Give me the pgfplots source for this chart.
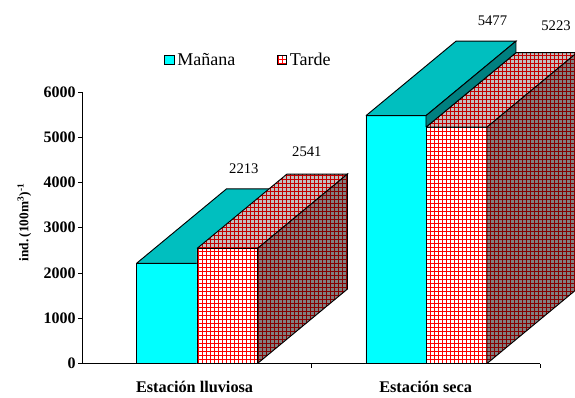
\documentclass[border=0pt]{standalone}
\usepackage{fontspec}
\setmainfont{Liberation Serif}
\usepackage{pgfplots}
\usetikzlibrary{patterns}
\pgfplotsset{compat=1.18}

% Hatch fills: square grid on a solid ground, one per shaded face
\newcommand{\gridpattern}[3]{%
  \pgfdeclarepatterninherentlycolored{#1}{\pgfqpoint{-0.1pt}{-0.1pt}}{\pgfqpoint{3.1pt}{3.1pt}}{\pgfqpoint{3pt}{3pt}}{%
    \pgfsetfillcolor{#2}%
    \pgfpathrectangle{\pgfqpoint{-0.1pt}{-0.1pt}}{\pgfqpoint{3.2pt}{3.2pt}}\pgfusepath{fill}%
    \pgfsetstrokecolor{#3}%
    \pgfsetlinewidth{0.5pt}%
    \pgfpathmoveto{\pgfqpoint{1.5pt}{-0.1pt}}\pgfpathlineto{\pgfqpoint{1.5pt}{3.1pt}}%
    \pgfpathmoveto{\pgfqpoint{-0.1pt}{1.5pt}}\pgfpathlineto{\pgfqpoint{3.1pt}{1.5pt}}%
    \pgfusepath{stroke}}}
\definecolor{cyanfront}{HTML}{00FFFF}
\definecolor{cyantop}{HTML}{00BFBF}
\definecolor{cyanside}{HTML}{008080}
\definecolor{redfront}{HTML}{FF0000}
\definecolor{redtop}{HTML}{C40000}
\definecolor{redside}{HTML}{850000}
\definecolor{greytop}{HTML}{C0C0C0}
\definecolor{greyside}{HTML}{808080}
\gridpattern{tardefront}{white}{redfront}
\gridpattern{tardetop}{greytop}{redtop}
\gridpattern{tardeside}{greyside}{redside}

\pgfplotsset{
  face/.style={draw=black, line width=0.7pt, line join=miter, forget plot},
  manana front/.style={face, fill=cyanfront},
  manana top/.style={face, fill=cyantop},
  manana side/.style={face, fill=cyanside},
  tarde front/.style={face, pattern=tardefront},
  tarde top/.style={face, pattern=tardetop},
  tarde side/.style={face, pattern=tardeside},
}

\begin{document}
\begin{tikzpicture}
\useasboundingbox (-61.875pt,-25.125pt) rectangle (369.375pt,272.625pt);
\begin{axis}[
  at={(0pt,0pt)}, anchor=south west,
  scale only axis, width=343.125pt, height=203.625pt,
  xmin=0, xmax=2, ymin=0, ymax=6000,
  axis x line=bottom, axis y line=left,
  axis line style={-, line width=0.9pt, black},
  clip=false,
  ytick={0,1000,...,6000},
  y tick label style={font=\fontsize{12}{12}\selectfont\bfseries, inner xsep=2pt},
  /pgf/number format/assume math mode=true,
  /pgf/number format/1000 sep={},
  tick style={black, line width=0.7pt},
  tick align=outside,
  major tick length=3pt,
  xtick={1,2},
  xticklabels={},
  x tick label style={font=\fontsize{12.2}{12}\selectfont\bfseries, yshift=-6.5pt},
  extra x ticks={0.49,1.5},
  extra x tick labels={Estación lluviosa,Estación seca},
  extra x tick style={tick style={draw=none}},
  ylabel={ind.\,(100m\textsuperscript{3})\textsuperscript{-1}},
  ylabel style={font=\fontsize{10}{12}\selectfont\bfseries, at={(axis description cs:-0.127,0.52)}, anchor=center},
  legend columns=2,
  legend style={at={(0.178,1.118)}, anchor=west, draw=none, fill=none, inner sep=0pt,
    font=\fontsize{13.5}{13}\selectfont, /tikz/every even column/.append style={column sep=29pt}},
  legend cell align=left,
]
% Estación lluviosa, Mañana 2213
\addplot[manana front] coordinates {(0.2361,0) (0.5005,0) (0.5005,2213) (0.2361,2213) (0.2361,0)};
\addplot[manana top] coordinates {(0.2361,2213) (0.5005,2213) (0.8939,3859) (0.6295,3859) (0.2361,2213)};
% Estación lluviosa, Tarde 2541
\addplot[tarde front] coordinates {(0.5005,0) (0.765,0) (0.765,2541) (0.5005,2541) (0.5005,0)};
\addplot[tarde top] coordinates {(0.5005,2541) (0.765,2541) (1.1584,4187) (0.8939,4187) (0.5005,2541)};
\addplot[tarde side] coordinates {(0.765,0) (1.1584,1646) (1.1584,4187) (0.765,2541) (0.765,0)};
% Estación seca, Tarde 5223
\addplot[tarde front] coordinates {(1.5016,0) (1.7683,0) (1.7683,5223) (1.5016,5223) (1.5016,0)};
\addplot[tarde top] coordinates {(1.5016,5223) (1.7683,5223) (2.1617,6869) (1.895,6869) (1.5016,5223)};
\addplot[tarde side] coordinates {(1.7683,0) (2.1617,1646) (2.1617,6869) (1.7683,5223) (1.7683,0)};
% Estación seca, Mañana 5477
\addplot[manana front] coordinates {(1.2393,0) (1.5016,0) (1.5016,5477) (1.2393,5477) (1.2393,0)};
\addplot[manana top] coordinates {(1.2393,5477) (1.5016,5477) (1.895,7123) (1.6327,7123) (1.2393,5477)};
\addplot[manana side] coordinates {(1.5016,5223) (1.5016,5477) (1.895,7123) (1.895,6869) (1.5016,5223)};
% Value labels
\node[font=\fontsize{11}{12}\selectfont] at (axis cs:0.7055,4310) {2213};
\node[font=\fontsize{11}{12}\selectfont] at (axis cs:0.981,4680) {2541};
\node[font=\fontsize{11}{12}\selectfont] at (axis cs:1.792,7585) {5477};
\node[font=\fontsize{11}{12}\selectfont] at (axis cs:2.07,7465) {5223};
% Legend keys
\addlegendimage{area legend, legend image code/.code={\draw[black, line width=0.7pt, fill=cyanfront] (0pt,-3.6pt) rectangle (7.2pt,3.6pt);}}
\addlegendentry{Mañana}
\addlegendimage{area legend, legend image code/.code={\draw[black, line width=0.7pt, pattern=tardefront] (0pt,-3.6pt) rectangle (7.2pt,3.6pt);}}
\addlegendentry{Tarde}
\end{axis}
\end{tikzpicture}
\end{document}
